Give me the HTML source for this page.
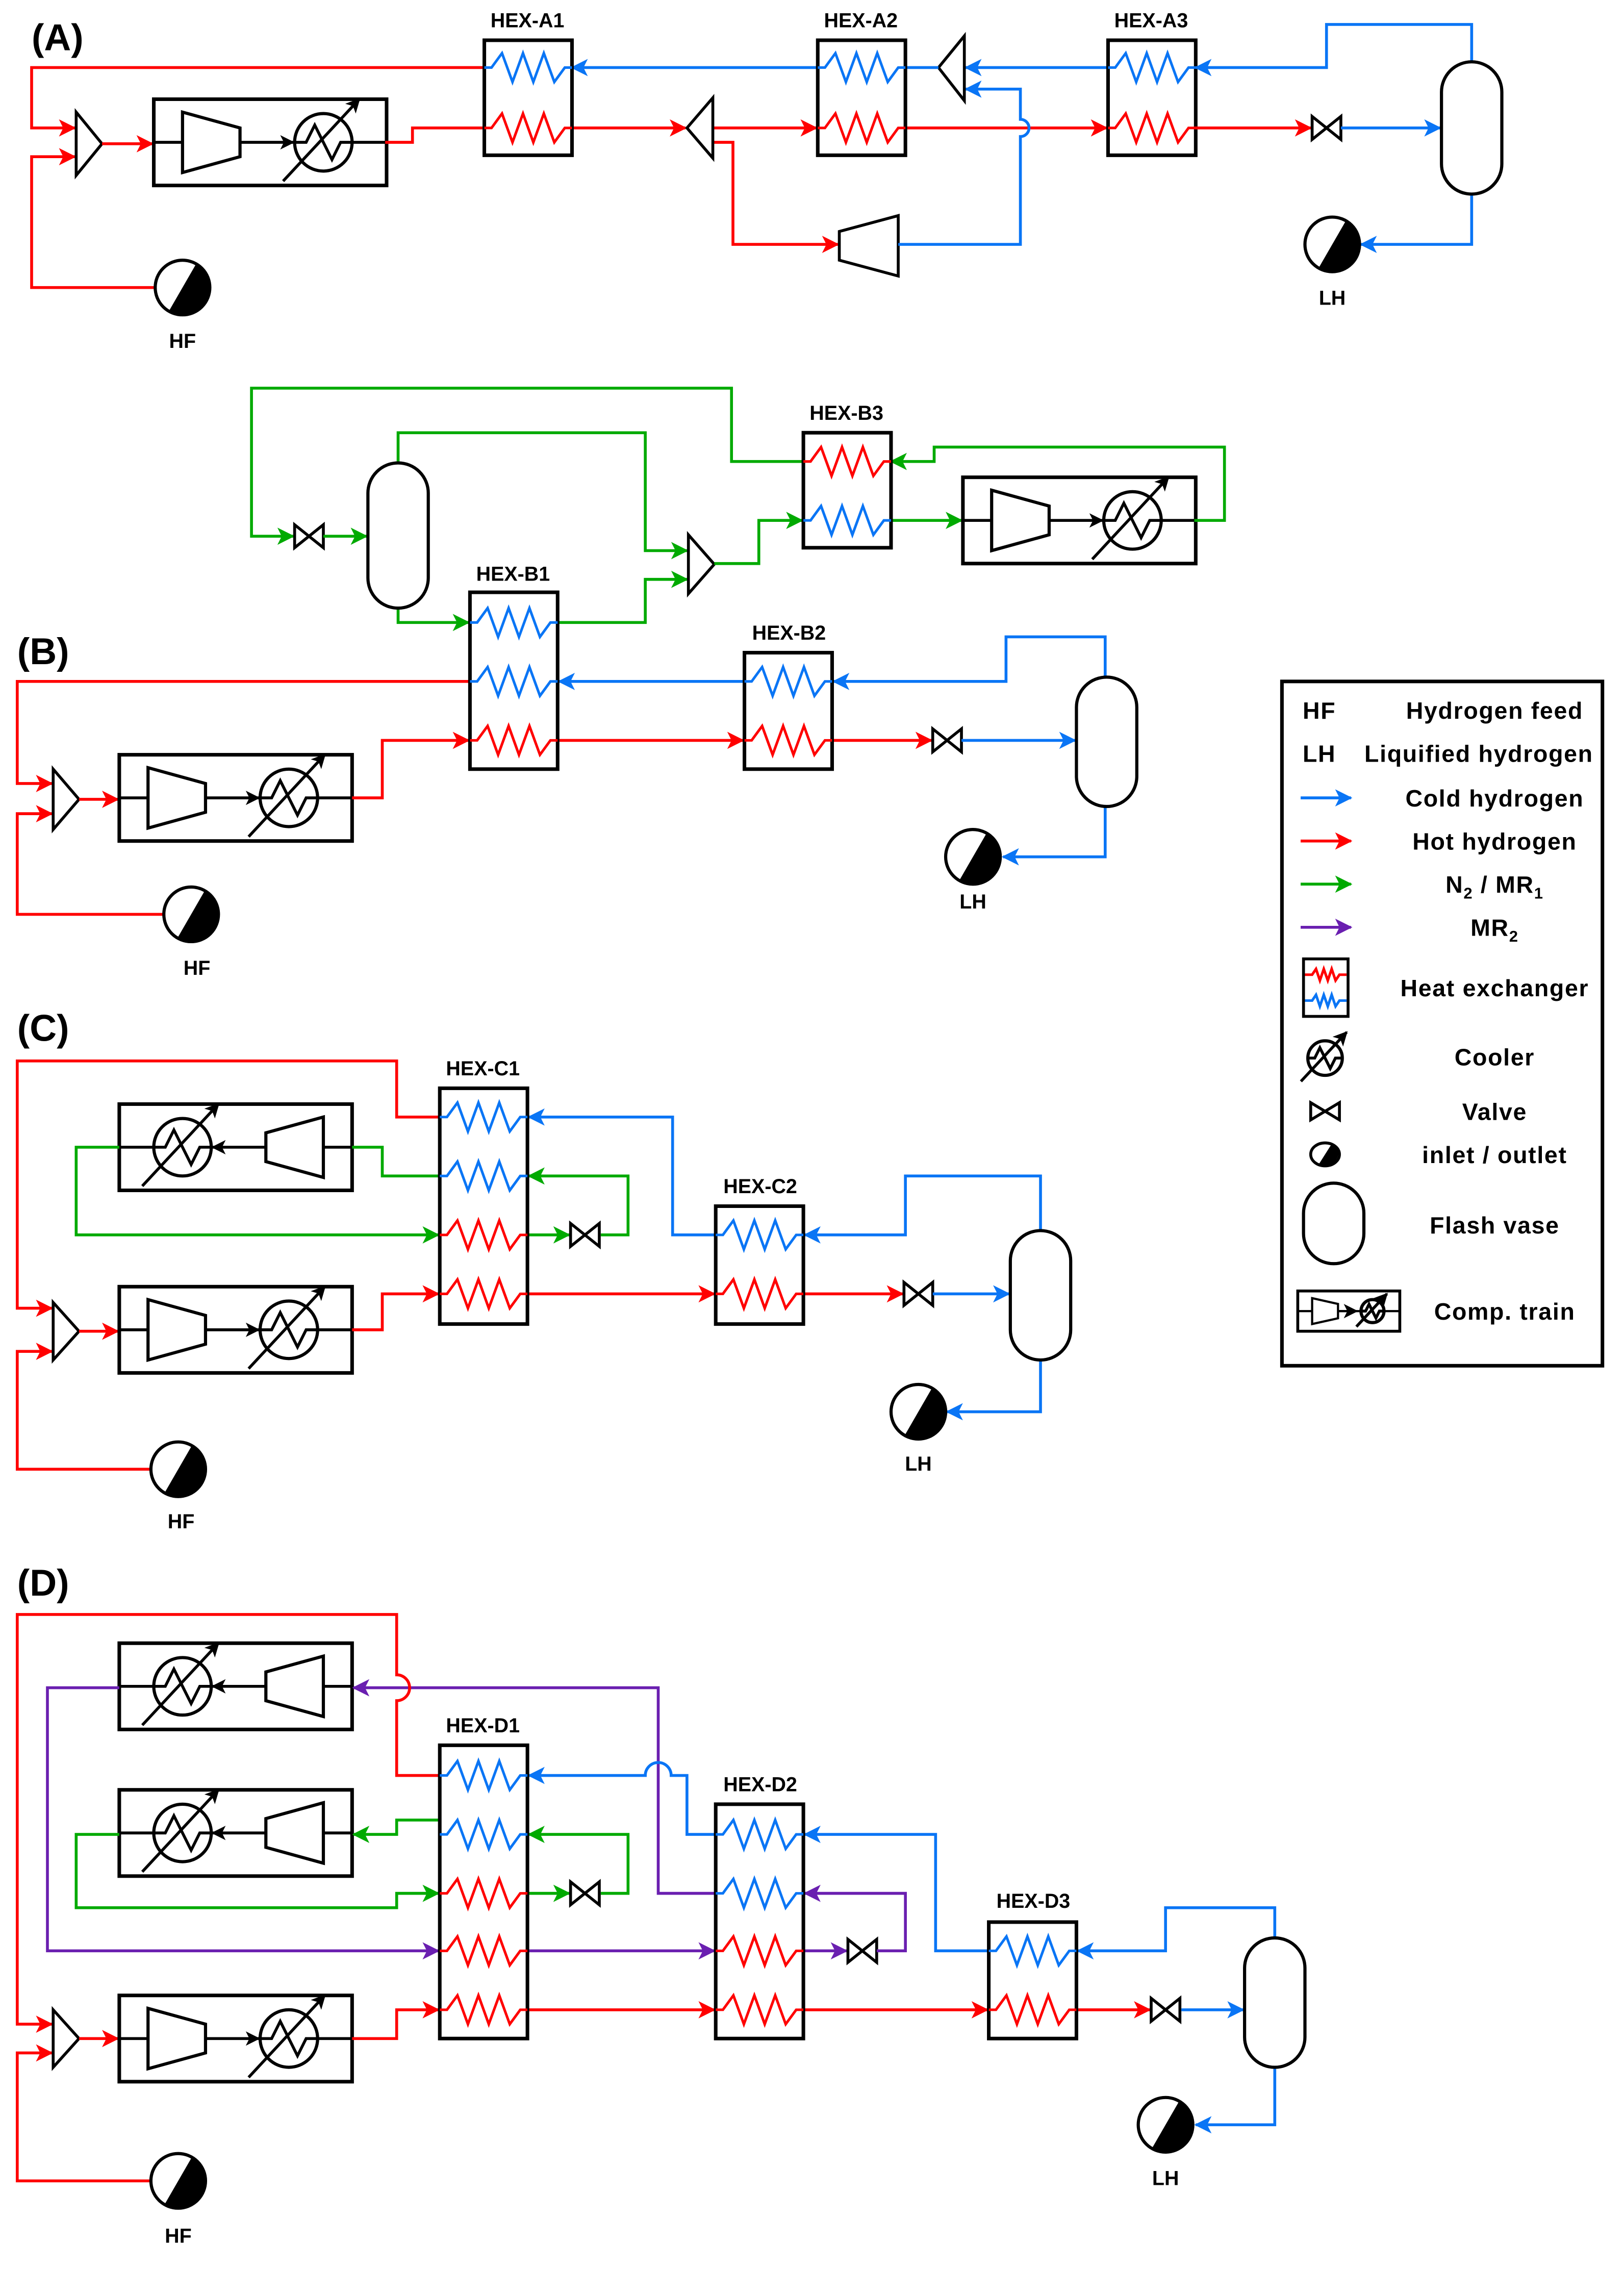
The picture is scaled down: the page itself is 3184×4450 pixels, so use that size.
<!DOCTYPE html>
<html><head><meta charset="utf-8"><style>
html,body{margin:0;padding:0;background:#fff}
svg{display:block}
text{font-family:"Liberation Sans",sans-serif;font-weight:bold;fill:#000}
.l{font-size:14px;text-anchor:middle}
.s{font-size:26px}
.g{font-size:16.5px;text-anchor:middle;letter-spacing:0.6px}
</style></head><body>
<svg id="sv" xmlns="http://www.w3.org/2000/svg" width="3184" height="4450" viewBox="0 0 1130 1579" preserveAspectRatio="none">
<defs>
<marker id="ar" markerUnits="userSpaceOnUse" markerWidth="12" markerHeight="12" refX="11" refY="6" orient="auto"><path d="M0,0 L12,6 L0,12 L3,6 z" fill="#ff0000"/></marker>
<marker id="ab" markerUnits="userSpaceOnUse" markerWidth="12" markerHeight="12" refX="11" refY="6" orient="auto"><path d="M0,0 L12,6 L0,12 L3,6 z" fill="#0a75f5"/></marker>
<marker id="ag" markerUnits="userSpaceOnUse" markerWidth="12" markerHeight="12" refX="11" refY="6" orient="auto"><path d="M0,0 L12,6 L0,12 L3,6 z" fill="#00aa00"/></marker>
<marker id="ap" markerUnits="userSpaceOnUse" markerWidth="12" markerHeight="12" refX="11" refY="6" orient="auto"><path d="M0,0 L12,6 L0,12 L3,6 z" fill="#6a1fb0"/></marker>
<marker id="ak" markerUnits="userSpaceOnUse" markerWidth="10" markerHeight="10" refX="9" refY="5" orient="auto"><path d="M0,0 L10,5 L0,10 L2.5,5 z" fill="#000"/></marker>
</defs>
<g id="shapes"></g>
<text class="s" x="22" y="35">(A)</text>
<text class="s" x="12" y="462">(B)</text>
<text class="s" x="12" y="724">(C)</text>
<text class="s" x="12" y="1110">(D)</text>
<text class="l" x="367" y="19">HEX-A1</text>
<text class="l" x="599" y="19">HEX-A2</text>
<text class="l" x="801" y="19">HEX-A3</text>
<text class="l" x="127" y="242">HF</text>
<text class="l" x="927" y="212">LH</text>
<text class="l" x="589" y="292">HEX-B3</text>
<text class="l" x="357" y="404">HEX-B1</text>
<text class="l" x="549" y="445">HEX-B2</text>
<text class="l" x="137" y="678">HF</text>
<text class="l" x="677" y="632">LH</text>
<text class="l" x="336" y="748">HEX-C1</text>
<text class="l" x="529" y="830">HEX-C2</text>
<text class="l" x="126" y="1063">HF</text>
<text class="l" x="639" y="1023">LH</text>
<text class="l" x="336" y="1205">HEX-D1</text>
<text class="l" x="529" y="1246">HEX-D2</text>
<text class="l" x="719" y="1327">HEX-D3</text>
<text class="l" x="124" y="1560">HF</text>
<text class="l" x="811" y="1520">LH</text>
<text class="g" x="918" y="500">HF</text>
<text class="g" x="1040" y="500">Hydrogen feed</text>
<text class="g" x="918" y="530">LH</text>
<text class="g" x="1029" y="530">Liquified hydrogen</text>
<text class="g" x="1040" y="561">Cold hydrogen</text>
<text class="g" x="1040" y="591">Hot hydrogen</text>
<text class="g" x="1040" y="621">N<tspan font-size="11" dy="4">2</tspan><tspan dy="-4"> / MR</tspan><tspan font-size="11" dy="4">1</tspan></text>
<text class="g" x="1040" y="651">MR<tspan font-size="11" dy="4">2</tspan></text>
<text class="g" x="1040" y="693">Heat exchanger</text>
<text class="g" x="1040" y="741">Cooler</text>
<text class="g" x="1040" y="779">Valve</text>
<text class="g" x="1040" y="809">inlet / outlet</text>
<text class="g" x="1040" y="858">Flash vase</text>
<text class="g" x="1047" y="918">Comp. train</text>
</svg>
<script>
var C={r:'#ff0000',b:'#0a75f5',g:'#00aa00',p:'#6a1fb0',k:'#000'};
var S=[];
function P(c,a,ar){var s='';for(var i=0;i<a.length;i+=2)s+=a[i]+','+a[i+1]+' ';S.push('<polyline points="'+s+'" fill="none" stroke="'+C[c]+'" stroke-width="2"'+(ar?' marker-end="url(#a'+c+')"':'')+'/>');}
function D(c,d,ar){S.push('<path d="'+d+'" fill="none" stroke="'+C[c]+'" stroke-width="2"'+(ar?' marker-end="url(#a'+c+')"':'')+'/>');}
function coil(x1,x2,y,c,amp){amp=amp||10;var d='M'+x1+','+y+' L'+(x1+5)+','+y;var n=7,w=(x2-x1-10)/n;for(var i=1;i<=n;i++){var yy=(i==n)?y:(i%2?y-amp:y+amp);d+=' L'+(x1+5+w*i).toFixed(1)+','+yy;}d+=' L'+x2+','+y;S.push('<path d="'+d+'" fill="none" stroke="'+C[c]+'" stroke-width="1.8"/>');}
function HEX(x,y1,y2,cs){S.push('<rect x="'+x+'" y="'+y1+'" width="61" height="'+(y2-y1)+'" fill="#fff" stroke="#000" stroke-width="2.5"/>');cs.forEach(function(q){coil(x,x+61,q[0],q[1]);});}
function cooler(cx,cy,r){r=r||20;var k=r/20;S.push('<circle cx="'+cx+'" cy="'+cy+'" r="'+r+'" fill="#fff" stroke="#000" stroke-width="2.2"/>');S.push('<path d="M'+(cx-r)+','+cy+' L'+(cx-12*k)+','+cy+' L'+(cx-6*k)+','+(cy-12*k)+' L'+(cx+6*k)+','+(cy+12*k)+' L'+(cx+12*k)+','+cy+' L'+(cx+r)+','+cy+'" fill="none" stroke="#000" stroke-width="2"/>');S.push('<line x1="'+(cx-28*k)+'" y1="'+(cy+27*k)+'" x2="'+(cx+25*k)+'" y2="'+(cy-30*k)+'" stroke="#000" stroke-width="2" marker-end="url(#ak)"/>');}
function train(x,y,rev){var cy=y+30;S.push('<rect x="'+x+'" y="'+y+'" width="162" height="60" fill="#fff" stroke="#000" stroke-width="2.5"/>');
if(!rev){S.push('<line x1="'+x+'" y1="'+cy+'" x2="'+(x+20)+'" y2="'+cy+'" stroke="#000" stroke-width="2"/>');S.push('<polygon points="'+(x+20)+','+(cy-21)+' '+(x+60)+','+(cy-10)+' '+(x+60)+','+(cy+10)+' '+(x+20)+','+(cy+21)+'" fill="#fff" stroke="#000" stroke-width="2.2"/>');S.push('<line x1="'+(x+60)+'" y1="'+cy+'" x2="'+(x+97)+'" y2="'+cy+'" stroke="#000" stroke-width="2" marker-end="url(#ak)"/>');S.push('<line x1="'+(x+138)+'" y1="'+cy+'" x2="'+(x+162)+'" y2="'+cy+'" stroke="#000" stroke-width="2"/>');cooler(x+118,cy);}
else{S.push('<line x1="'+(x+142)+'" y1="'+cy+'" x2="'+(x+162)+'" y2="'+cy+'" stroke="#000" stroke-width="2"/>');S.push('<polygon points="'+(x+102)+','+(cy-10)+' '+(x+142)+','+(cy-21)+' '+(x+142)+','+(cy+21)+' '+(x+102)+','+(cy+10)+'" fill="#fff" stroke="#000" stroke-width="2.2"/>');S.push('<line x1="'+(x+102)+'" y1="'+cy+'" x2="'+(x+65)+'" y2="'+cy+'" stroke="#000" stroke-width="2" marker-end="url(#ak)"/>');S.push('<line x1="'+x+'" y1="'+cy+'" x2="'+(x+24)+'" y2="'+cy+'" stroke="#000" stroke-width="2"/>');cooler(x+44,cy);}}
function tri(pts){S.push('<polygon points="'+pts+'" fill="#fff" stroke="#000" stroke-width="2"/>');}
function mixR(x,y1,y2){tri(x+','+y1+' '+x+','+y2+' '+(x+18)+','+((y1+y2)/2));}
function valve(x,cy,h){h=h||8;S.push('<path d="M'+x+','+(cy-h)+' L'+(x+20)+','+(cy+h)+' L'+(x+20)+','+(cy-h)+' L'+x+','+(cy+h)+' Z" fill="#fff" stroke="#000" stroke-width="2"/>');}
function drum(x,y1,y2){S.push('<rect x="'+x+'" y="'+y1+'" width="42" height="'+(y2-y1)+'" rx="21" ry="21" fill="#fff" stroke="#000" stroke-width="2.2"/>');}
function io(cx,cy,r){r=r||19;S.push('<circle cx="'+cx+'" cy="'+cy+'" r="'+r+'" fill="#fff" stroke="#000" stroke-width="2.2"/>');var x1=cx+0.5*r,y1=cy-0.866*r,x2=cx-0.5*r,y2=cy+0.866*r;S.push('<path d="M'+x1+','+y1+' A'+r+','+r+' 0 0 1 '+x2+','+y2+' Z" fill="#000"/>');}

/* ===== A ===== */
P('r',[337,47,22,47,22,89,52,89],1);
P('r',[107,200,22,200,22,109,52,109],1);
mixR(53,78,122);
P('r',[71,100,106,100],1);
train(107,69,false);
P('r',[268,99,287,99,287,89,337,89]);
P('r',[397,89,477,89],1);
P('r',[496,89,568,89],1);
P('r',[496,99,510,99,510,170,583,170],1);
tri('478,89 496,68 496,110');
tri('584,161 625,150 625,192 584,181');
P('r',[629,89,770,89],1);
D('b','M625,170 L710,170 L710,95 A6,6 0 0 0 710,83 L710,62 L672,62',1);
P('b',[771,47,672,47],1);
tri('653,47 671,25 671,70');
P('b',[653,47,629,47]);
P('b',[569,47,398,47],1);
HEX(337,28,108,[[47,'b'],[89,'r']]);
HEX(569,28,108,[[47,'b'],[89,'r']]);
HEX(771,28,108,[[47,'b'],[89,'r']]);
P('r',[831,89,912,89],1);valve(913,89);
P('b',[933,89,1002,89],1);
P('b',[1024,43,1024,17,923,17,923,47,832,47],1);
P('b',[1024,135,1024,170,947,170],1);
drum(1003,43,135);
io(927,170);io(127,200);

/* ===== B ===== */
P('g',[619,362,669,362],1);
train(670,332,false);
P('g',[831,362,852,362,852,311,650,311,650,321,620,321],1);
P('g',[559,321,509,321,509,270,175,270,175,373,204,373],1);valve(205,373);
P('g',[225,373,255,373],1);
P('g',[277,322,277,301,449,301,449,383,478,383],1);
P('g',[277,423,277,433,326,433],1);
P('g',[388,433,449,433,449,403,478,403],1);
mixR(479,372,413);
P('g',[497,392,528,392,528,362,558,362],1);
drum(256,322,423);
HEX(559,301,381,[[321,'r'],[362,'b']]);
P('b',[769,471,769,443,700,443,700,474,580,474],1);
P('b',[518,474,389,474],1);
P('r',[327,474,12,474,12,545,36,545],1);
P('r',[114,636,12,636,12,566,36,566],1);
mixR(37,535,577);
P('r',[55,556,82,556],1);
train(83,525,false);
P('r',[245,555,266,555,266,515,326,515],1);
P('r',[388,515,517,515],1);
P('r',[579,515,648,515],1);valve(649,515);
P('b',[669,515,748,515],1);
P('b',[769,561,769,596,698,596],1);
HEX(327,412,535,[[433,'b'],[474,'b'],[515,'r']]);
HEX(518,454,535,[[474,'b'],[515,'r']]);
drum(749,471,561);
io(677,596);io(133,636);

/* ===== C ===== */
P('r',[306,777,276,777,276,738,12,738,12,910,36,910],1);
P('r',[105,1022,12,1022,12,940,36,940],1);
mixR(37,906,946);
P('r',[55,926,82,926],1);
train(83,895,false);
P('r',[245,925,266,925,266,900,305,900],1);
P('r',[367,900,497,900],1);
P('r',[559,900,628,900],1);valve(629,900);
P('b',[649,900,702,900],1);
P('b',[724,856,724,818,630,818,630,859,560,859],1);
P('b',[498,859,468,859,468,777,368,777],1);
P('b',[724,946,724,982,659,982],1);
train(83,768,true);
P('g',[306,818,266,818,266,798,245,798]);
P('g',[83,798,53,798,53,859,305,859],1);
P('g',[367,859,396,859],1);valve(397,859);
P('g',[418,859,437,859,437,818,368,818],1);
HEX(306,757,921,[[777,'b'],[818,'b'],[859,'r'],[900,'r']]);
HEX(498,839,921,[[859,'b'],[900,'r']]);
drum(703,856,946);
io(639,982);io(124,1022);

/* ===== D ===== */
train(83,1143,true);
train(83,1245,true);
P('p',[498,1317,458,1317,458,1174,246,1174],1);
P('p',[83,1174,33,1174,33,1357,305,1357],1);
P('p',[367,1357,497,1357],1);
P('p',[559,1357,589,1357],1);valve(590,1357);
P('p',[610,1357,630,1357,630,1317,560,1317],1);
D('r','M306,1235 L276,1235 L276,1183 A8,8 0 0 0 276,1165 L276,1123 L12,1123 L12,1408 L36,1408',1);
P('r',[105,1517,12,1517,12,1428,36,1428],1);
mixR(37,1398,1438);
P('r',[55,1418,82,1418],1);
train(83,1388,false);
P('r',[245,1418,276,1418,276,1398,305,1398],1);
P('r',[367,1398,497,1398],1);
P('r',[559,1398,687,1398],1);
P('r',[749,1398,800,1398],1);valve(801,1398);
P('b',[822,1398,865,1398],1);
P('b',[887,1348,887,1327,811,1327,811,1357,750,1357],1);
P('b',[688,1357,651,1357,651,1276,560,1276],1);
D('b','M498,1276 L478,1276 L478,1235 L467,1235 A9,9 0 0 0 449,1235 L368,1235',1);
P('b',[887,1438,887,1478,832,1478],1);
P('g',[306,1266,276,1266,276,1276,246,1276],1);
P('g',[83,1276,53,1276,53,1327,276,1327,276,1317,305,1317],1);
P('g',[367,1317,396,1317],1);valve(397,1317);
P('g',[418,1317,437,1317,437,1276,368,1276],1);
HEX(306,1214,1418,[[1235,'b'],[1276,'b'],[1317,'r'],[1357,'r'],[1398,'r']]);
HEX(498,1255,1418,[[1276,'b'],[1317,'b'],[1357,'r'],[1398,'r']]);
HEX(688,1337,1418,[[1357,'b'],[1398,'r']]);
drum(866,1348,1438);
io(811,1478);io(124,1517);

/* ===== Legend ===== */
S.push('<rect x="892" y="474" width="223" height="476" fill="none" stroke="#000" stroke-width="2.5"/>');
P('b',[905,555,940,555],1);P('r',[905,585,940,585],1);P('g',[905,615,940,615],1);P('p',[905,645,940,645],1);
S.push('<rect x="907" y="667" width="31" height="40" fill="#fff" stroke="#000" stroke-width="2"/>');
coil(908,937,678,'r',4);coil(908,937,696,'b',4);
cooler(922,736,12);
valve(912,773,6);
S.push('<ellipse cx="922" cy="803" rx="10" ry="8" fill="#fff" stroke="#000" stroke-width="2"/>');
S.push('<path d="M926.5,795.9 A10,8 0 0 1 917.5,810.1 Z" fill="#000"/>');
drum(907,823,879);
S.push('<rect x="903" y="898" width="71" height="28" fill="#fff" stroke="#000" stroke-width="2"/>');
S.push('<line x1="903" y1="912" x2="974" y2="912" stroke="#000" stroke-width="1.5"/>');
S.push('<polygon points="913,903 931,907 931,917 913,921" fill="#fff" stroke="#000" stroke-width="1.5"/>');
S.push('<line x1="931" y1="912" x2="944" y2="912" stroke="#000" stroke-width="1.5" marker-end="url(#ak)"/>');
cooler(955,912,8);
document.getElementById('shapes').innerHTML=S.join('');
</script>
</body></html>
